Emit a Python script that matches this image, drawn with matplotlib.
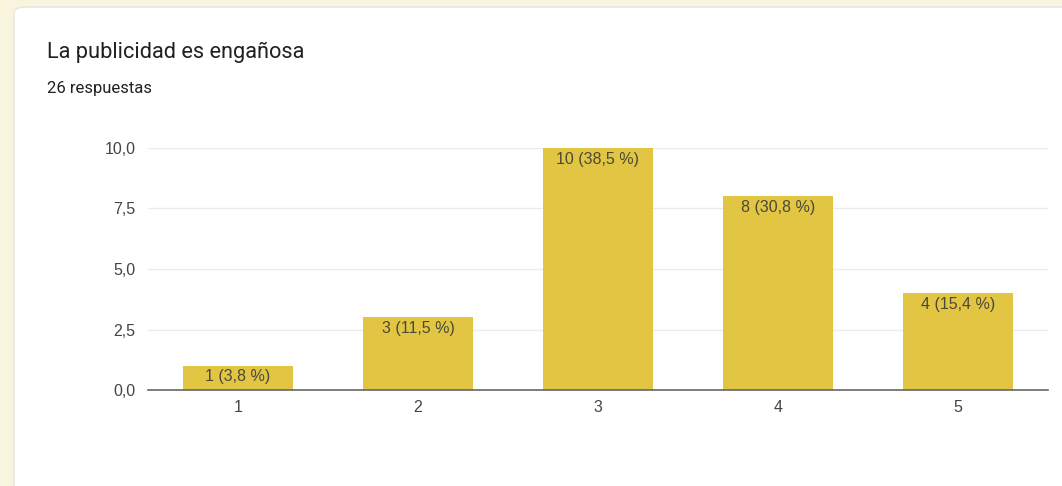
import numpy as np
import matplotlib.pyplot as plt
from matplotlib.patches import FancyBboxPatch

# Data
categories = ['1', '2', '3', '4', '5']
counts = [1, 3, 10, 8, 4]
percent_labels = ['1 (3,8 %)', '3 (11,5 %)', '10 (38,5 %)', '8 (30,8 %)', '4 (15,4 %)']
yticks = [0, 2.5, 5, 7.5, 10]
ytick_labels = ['0,0', '2,5', '5,0', '7,5', '10,0']
title = 'La publicidad es engañosa'
subtitle = '26 respuestas'

W, H = 1062, 486
fig = plt.figure(figsize=(W / 100, H / 100), dpi=100)
fig.patch.set_facecolor('#f9f4de')

# white card
card = FancyBboxPatch((14 / W, -0.1), 1.1, (H - 7) / H + 0.1,
                      boxstyle='round,pad=0,rounding_size=0.012',
                      transform=fig.transFigure, facecolor='white',
                      edgecolor='#e4e4e4', linewidth=1.0, zorder=0)
fig.patches.append(card)

fig.text(47 / W, 1 - 52 / H, title, fontsize=15.7, family='Roboto',
         color='#202124', va='center', ha='left', zorder=5)
fig.text(47 / W, 1 - 89 / H, subtitle, fontsize=12, family='Roboto',
         color='#202124', va='center', ha='left', zorder=5)

ax = fig.add_axes([148 / W, 1 - 390 / H, 900 / W, 242 / H])
ax.set_zorder(3)
ax.set_facecolor('white')
x = np.arange(len(categories))
bars = ax.bar(x, counts, width=0.61, color='#e2c542', zorder=2)
ax.set_xlim(-0.5, len(categories) - 0.5)
ax.set_ylim(0, 10)

for b, lab in zip(bars, percent_labels):
    ax.annotate(lab, (b.get_x() + b.get_width() / 2, b.get_height()),
                xytext=(0, -8), textcoords='offset points', ha='center', va='center',
                fontsize=11.5, family='Liberation Sans', color='#4a4a3a', zorder=3)

ax.set_xticks(x)
ax.set_xticklabels(categories)
ax.set_yticks(yticks)
ax.set_yticklabels(ytick_labels)
for lab in ax.get_xticklabels() + ax.get_yticklabels():
    lab.set_family('Liberation Sans')
    lab.set_fontsize(11.5)
    lab.set_color('#444444')
ax.tick_params(axis='both', length=0)
ax.tick_params(axis='x', pad=7)
ax.tick_params(axis='y', pad=9)
ax.grid(axis='y', color='#ebebeb', linewidth=1, zorder=0)
for s in ['top', 'right', 'left']:
    ax.spines[s].set_visible(False)
ax.spines['bottom'].set_color('#666666')
ax.spines['bottom'].set_linewidth(1.2)
ax.spines['bottom'].set_zorder(4)

fig.savefig('out.png', dpi=100, facecolor=fig.get_facecolor())
